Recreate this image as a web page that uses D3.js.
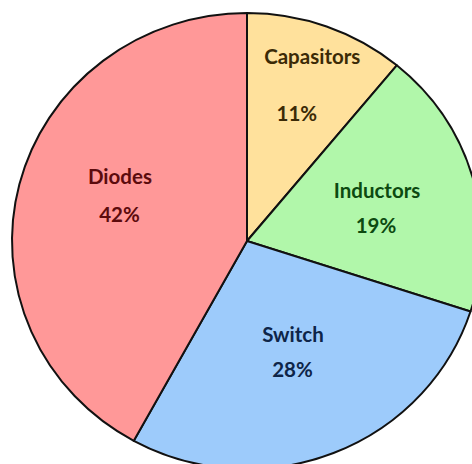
<!DOCTYPE html>
<html>
<head>
<meta charset="utf-8">
<script src="https://cdn.jsdelivr.net/npm/d3@7"></script>
<style>
  html, body { margin: 0; padding: 0; background: #ffffff; }
  svg { display: block; }
</style>
</head>
<body>
<svg id="chart" width="472" height="464"></svg>
<script>
// Component share of failures
const categories = ["Capasitors", "Inductors", "Switch", "Diodes"];
const shares = [11, 19, 28, 42];
const percentLabels = ["11%", "19%", "28%", "42%"];

const fills = ["#ffe19c", "#b1f7aa", "#9dcbfb", "#ff9898"];
const textColors = ["#3b2a06", "#0c4a10", "#0e2548", "#5c0b0d"];

// label placement: [angle offset from slice middle in degrees, radius fraction]
const nameSpot = [[-0.8, 0.853], [-5.6, 0.596], [-3.8, 0.456], [13.2, 0.61]];
const pctSpot = [[1.0, 0.598], [9.1, 0.553], [2.7, 0.598], [-2.3, 0.555]];

const svg = d3.select("#chart");
const cx = 247, cy = 241;
const ry = 228, rx = 235;
const sx = rx / ry;

const pie = d3.pie().sort(null).value(d => d)(shares);
const arc = d3.arc().innerRadius(0).outerRadius(ry);

const g = svg.append("g")
  .attr("transform", `translate(${cx},${cy}) scale(${sx},1)`);

g.selectAll("path")
  .data(pie)
  .join("path")
  .attr("d", arc)
  .attr("fill", (d, i) => fills[i])
  .attr("stroke", "#111111")
  .attr("stroke-width", 2)
  .attr("vector-effect", "non-scaling-stroke")
  .attr("stroke-linejoin", "round");

const labels = svg.append("g")
  .attr("font-family", "Lato, 'Open Sans', sans-serif")
  .attr("font-weight", "bold")
  .attr("font-size", 20.5)
  .attr("text-anchor", "middle");

function spot(d, s) {
  const a = (d.startAngle + d.endAngle) / 2 + s[0] * Math.PI / 180;
  const r = ry * s[1];
  return [cx + sx * r * Math.sin(a), cy - r * Math.cos(a)];
}

pie.forEach((d, i) => {
  const [nx, ny] = spot(d, nameSpot[i]);
  const [px, py] = spot(d, pctSpot[i]);
  labels.append("text")
    .attr("x", nx).attr("y", ny).attr("dy", "0.36em")
    .attr("fill", textColors[i])
    .text(categories[i]);
  labels.append("text")
    .attr("x", px).attr("y", py).attr("dy", "0.36em")
    .attr("fill", textColors[i])
    .text(percentLabels[i]);
});
</script>
</body>
</html>
